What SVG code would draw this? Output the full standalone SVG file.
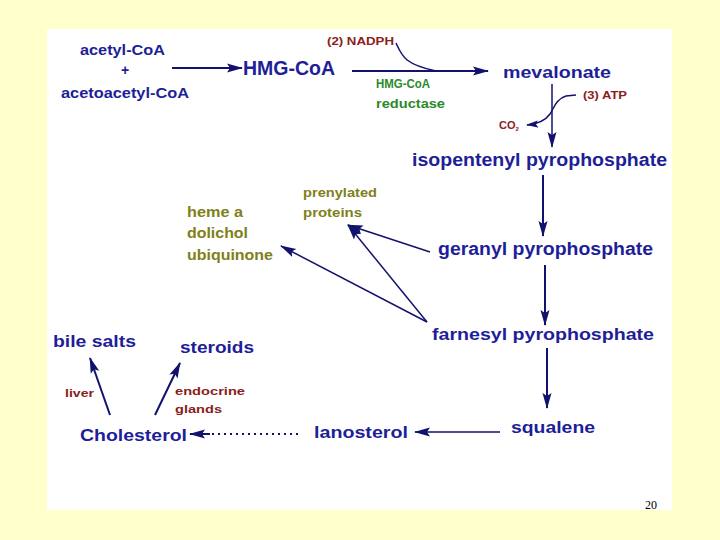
<svg xmlns="http://www.w3.org/2000/svg" width="720" height="540" viewBox="0 0 720 540">
<defs>
<style>
text{font-family:"Liberation Sans",Arial,sans-serif;font-weight:bold}
.n{fill:#1e1e98}
.r{fill:#8b1c1c;font-size:11px}
.g{fill:#2a8a2a;font-size:12px}
.o{fill:#80801a}
.ln{stroke:#12126e;stroke-width:2;fill:none}
.th{stroke:#12126e;stroke-width:1.5;fill:none}
</style>
<marker id="ah" viewBox="0 0 16 10" refX="15" refY="5" markerWidth="16" markerHeight="10" markerUnits="userSpaceOnUse" orient="auto">
<path d="M0,0.5 L16,5 L0,9.5 L3,5 z" fill="#12126e"/>
</marker>
<marker id="as" viewBox="0 0 12 8" refX="11" refY="4" markerWidth="12" markerHeight="8" markerUnits="userSpaceOnUse" orient="auto">
<path d="M0,0.5 L12,4 L0,7.5 L2,4 z" fill="#12126e"/>
</marker>
</defs>
<rect width="720" height="540" fill="#ffffcc"/>
<rect x="47" y="29" width="625" height="481" fill="#ffffff"/>

<g id="connectors">
<line class="ln" x1="172" y1="68" x2="242" y2="68" marker-end="url(#ah)"/>
<line class="ln" x1="352" y1="71" x2="488" y2="71" marker-end="url(#ah)"/>
<path class="th" d="M396,43 C402,56 404,64 436,71"/>
<line class="th" x1="552" y1="84" x2="552" y2="147" marker-end="url(#ah)"/>
<path class="th" d="M576,95 L566,96 C556,99 554,108 550,114 C545,121 538,124 527,125" marker-end="url(#as)"/>
<line class="ln" x1="543" y1="175" x2="543" y2="236" marker-end="url(#ah)"/>
<line class="ln" x1="545" y1="265" x2="545" y2="325" marker-end="url(#ah)"/>
<line class="ln" x1="547" y1="348" x2="547" y2="408" marker-end="url(#ah)"/>
<line class="th" x1="500" y1="432" x2="415" y2="432" marker-end="url(#ah)"/>
<line class="ln" x1="298" y1="434" x2="212" y2="434" stroke-dasharray="2 4"/>
<line class="ln" x1="210" y1="434" x2="190" y2="434" marker-end="url(#ah)"/>
<line class="ln" x1="110" y1="415" x2="90" y2="358" marker-end="url(#ah)"/>
<line class="ln" x1="155" y1="415" x2="180" y2="363" marker-end="url(#ah)"/>
<line class="th" x1="430" y1="252" x2="348" y2="225" marker-end="url(#ah)"/>
<line class="th" x1="427" y1="322" x2="348" y2="225" marker-end="url(#ah)"/>
<line class="th" x1="427" y1="322" x2="281" y2="246" marker-end="url(#ah)"/>
</g>

<g id="acetyl"><text class="n" x="80" y="55" font-size="14" textLength="85" lengthAdjust="spacingAndGlyphs">acetyl-CoA</text>
<text class="n" x="125" y="75" font-size="14" text-anchor="middle">+</text>
<text class="n" x="61" y="98" font-size="14" textLength="128" lengthAdjust="spacingAndGlyphs">acetoacetyl-CoA</text></g>
<g id="hmgcoa"><text class="n" x="243" y="75" font-size="20" textLength="92" lengthAdjust="spacingAndGlyphs">HMG-CoA</text></g>
<g id="nadph"><text class="r" x="327" y="45" textLength="67" lengthAdjust="spacingAndGlyphs">(2) NADPH</text></g>
<g id="reductase"><text class="g" x="376" y="88" textLength="54" lengthAdjust="spacingAndGlyphs">HMG-CoA</text>
<text class="g" x="376" y="108" textLength="69" lengthAdjust="spacingAndGlyphs">reductase</text></g>
<g id="mevalonate"><text class="n" x="503" y="78" font-size="17" textLength="108" lengthAdjust="spacingAndGlyphs">mevalonate</text></g>
<g id="atp"><text class="r" x="583" y="99" textLength="44" lengthAdjust="spacingAndGlyphs">(3) ATP</text></g>
<g id="co2"><text class="r" x="499" y="129" font-size="10px">CO<tspan font-size="6" dy="2">2</tspan></text></g>
<g id="ipp"><text class="n" x="412" y="166" font-size="18" textLength="255" lengthAdjust="spacingAndGlyphs">isopentenyl pyrophosphate</text></g>
<g id="gpp"><text class="n" x="438" y="255" font-size="18" textLength="215" lengthAdjust="spacingAndGlyphs">geranyl pyrophosphate</text></g>
<g id="fpp"><text class="n" x="432" y="340" font-size="17" textLength="222" lengthAdjust="spacingAndGlyphs">farnesyl pyrophosphate</text></g>
<g id="squalene"><text class="n" x="511" y="433" font-size="16" textLength="84" lengthAdjust="spacingAndGlyphs">squalene</text></g>
<g id="lanosterol"><text class="n" x="314" y="438" font-size="17" textLength="94" lengthAdjust="spacingAndGlyphs">lanosterol</text></g>
<g id="cholesterol"><text class="n" x="80" y="441" font-size="17" textLength="107" lengthAdjust="spacingAndGlyphs">Cholesterol</text></g>
<g id="bilesalts"><text class="n" x="53" y="347" font-size="17" textLength="83" lengthAdjust="spacingAndGlyphs">bile salts</text></g>
<g id="steroids"><text class="n" x="180" y="353" font-size="17" textLength="74" lengthAdjust="spacingAndGlyphs">steroids</text></g>
<g id="liver"><text class="r" x="65" y="397" textLength="29" lengthAdjust="spacingAndGlyphs">liver</text></g>
<g id="endocrine"><text class="r" x="175" y="395" textLength="70" lengthAdjust="spacingAndGlyphs">endocrine</text>
<text class="r" x="175" y="413" textLength="47" lengthAdjust="spacingAndGlyphs">glands</text></g>
<g id="heme"><text class="o" x="187" y="217" font-size="14" textLength="56" lengthAdjust="spacingAndGlyphs">heme a</text>
<text class="o" x="187" y="238" font-size="14" textLength="61" lengthAdjust="spacingAndGlyphs">dolichol</text>
<text class="o" x="187" y="260" font-size="14" textLength="86" lengthAdjust="spacingAndGlyphs">ubiquinone</text></g>
<g id="prenylated"><text class="o" x="303" y="197" font-size="13" textLength="74" lengthAdjust="spacingAndGlyphs">prenylated</text>
<text class="o" x="303" y="217" font-size="13" textLength="59" lengthAdjust="spacingAndGlyphs">proteins</text></g>
<text x="645" y="509" font-size="12" style="font-family:'Liberation Serif','Times New Roman',serif;font-weight:normal" fill="#000">20</text>
</svg>
